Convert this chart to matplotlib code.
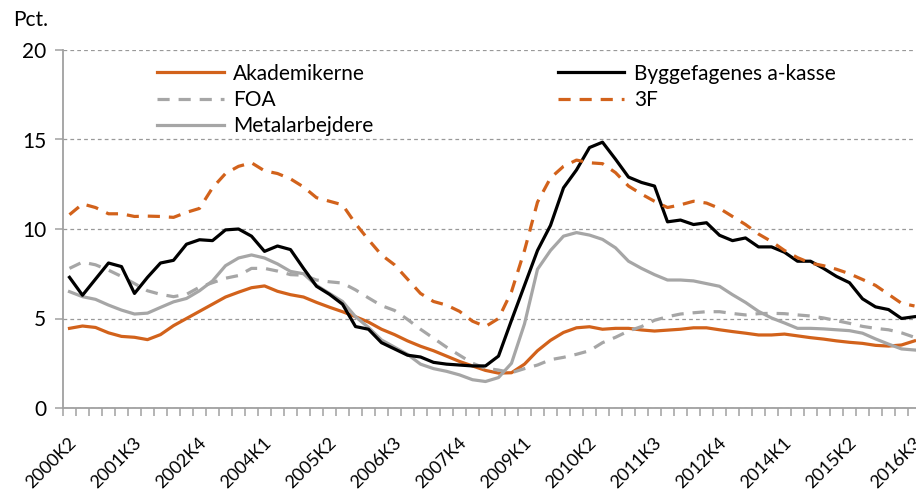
import matplotlib
matplotlib.use('Agg')
import matplotlib.pyplot as plt
import matplotlib.transforms as mtransforms
import numpy as np

# kvartaler 2000K2 - 2016K3
kvartaler = ['%dK%d' % (2000 + (q + 1) // 4, (q + 1) % 4 + 1) for q in range(66)]

akademikerne = [4.45, 4.58, 4.5, 4.2, 4.0, 3.95, 3.82, 4.1, 4.6, 5.0,
                5.4, 5.8, 6.2, 6.47, 6.72, 6.82, 6.52, 6.33, 6.2, 5.9,
                5.63, 5.38, 5.1, 4.8, 4.4, 4.1, 3.75, 3.45, 3.2, 2.9,
                2.6, 2.35, 2.1, 1.95, 1.97, 2.45, 3.2, 3.78, 4.22, 4.48,
                4.54, 4.4, 4.45, 4.45, 4.36, 4.3, 4.35, 4.4, 4.48, 4.48,
                4.37, 4.27, 4.18, 4.08, 4.08, 4.13, 4.03, 3.93, 3.85, 3.75,
                3.67, 3.61, 3.5, 3.46, 3.52, 3.75]

byggefag = [7.3, 6.3, 7.2, 8.1, 7.9, 6.4, 7.3, 8.1, 8.25, 9.15,
            9.4, 9.35, 9.95, 10.0, 9.6, 8.75, 9.05, 8.85, 7.8, 6.8,
            6.35, 5.8, 4.55, 4.4, 3.65, 3.3, 2.95, 2.85, 2.55, 2.45,
            2.4, 2.35, 2.35, 2.9, 4.9, 6.85, 8.8, 10.2, 12.3, 13.3,
            14.55, 14.85, 13.9, 12.9, 12.6, 12.4, 10.4, 10.5, 10.25, 10.35,
            9.65, 9.35, 9.5, 9.0, 9.0, 8.7, 8.2, 8.2, 7.8, 7.35,
            7.0, 6.1, 5.65, 5.5, 5.0, 5.1]

foa = [7.8, 8.15, 8.0, 7.7, 7.35, 6.95, 6.55, 6.35, 6.22, 6.35,
       6.75, 7.0, 7.25, 7.4, 7.8, 7.8, 7.65, 7.45, 7.42, 7.15,
       7.05, 6.98, 6.6, 6.15, 5.72, 5.45, 4.95, 4.4, 3.9, 3.4,
       2.95, 2.5, 2.22, 2.12, 1.97, 2.2, 2.4, 2.7, 2.83, 3.0,
       3.2, 3.65, 3.95, 4.3, 4.55, 4.9, 5.1, 5.25, 5.32, 5.38,
       5.38, 5.28, 5.2, 5.27, 5.29, 5.27, 5.2, 5.14, 5.03, 4.88,
       4.73, 4.56, 4.45, 4.37, 4.2, 3.95]

tre_f = [10.8, 11.4, 11.2, 10.85, 10.85, 10.7, 10.72, 10.7, 10.65, 10.93,
         11.15, 12.3, 13.1, 13.5, 13.7, 13.25, 13.1, 12.8, 12.35, 11.75,
         11.55, 11.35, 10.3, 9.4, 8.55, 8.0, 7.2, 6.4, 5.95, 5.75,
         5.4, 4.85, 4.55, 5.0, 6.5, 8.8, 11.5, 12.85, 13.5, 13.85,
         13.7, 13.65, 13.15, 12.4, 11.95, 11.55, 11.2, 11.35, 11.55, 11.45,
         11.15, 10.7, 10.25, 9.72, 9.3, 8.8, 8.4, 8.1, 7.95, 7.75,
         7.5, 7.18, 6.85, 6.35, 5.85, 5.7]

metal = [6.5, 6.22, 6.07, 5.75, 5.47, 5.25, 5.3, 5.62, 5.93, 6.12,
         6.55, 7.1, 7.95, 8.38, 8.55, 8.38, 8.05, 7.63, 7.5, 6.85,
         6.4, 5.95, 5.1, 4.5, 3.8, 3.4, 3.0, 2.45, 2.2, 2.05,
         1.85, 1.58, 1.48, 1.7, 2.5, 4.7, 7.75, 8.8, 9.6, 9.8,
         9.66, 9.42, 8.95, 8.2, 7.8, 7.45, 7.15, 7.15, 7.1, 6.95,
         6.8, 6.33, 5.9, 5.4, 5.03, 4.75, 4.45, 4.45, 4.42, 4.37,
         4.32, 4.18, 3.86, 3.57, 3.3, 3.24]

ORANGE = '#D2621B'
GRAA = '#A6A6A6'
AKSE = '#A0A0A0'


def tegn():
    plt.rcParams['font.family'] = ['Lato', 'DejaVu Sans']
    fig = plt.figure(figsize=(9.16, 4.9), dpi=100)
    # akserne går lidt ud over højre kant ligesom i originalen
    ax = fig.add_axes([63 / 916, 82 / 490, 858 / 916, 358 / 490])

    x = np.arange(len(kvartaler))
    lw = 2.3
    streg = (0, (3.8, 2.8))
    ax.plot(x, akademikerne, color=ORANGE, lw=lw, label='Akademikerne')
    ax.plot(x, foa, color=GRAA, lw=lw, ls=streg, label='FOA')
    ax.plot(x, metal, color=GRAA, lw=lw, label='Metalarbejdere')
    ax.plot(x, byggefag, color='black', lw=lw, label='Byggefagenes a-kasse')
    ax.plot(x, tre_f, color=ORANGE, lw=lw, ls=streg, label='3F')

    ax.set_xlim(-0.5, len(kvartaler) - 0.5)
    ax.set_ylim(0, 20)
    ax.set_yticks([0, 5, 10, 15, 20])
    ax.yaxis.grid(True, color='#999999', ls=(0, (3, 2.5)), lw=0.9)
    ax.set_axisbelow(True)

    for s in ['top', 'right']:
        ax.spines[s].set_visible(False)
    for s in ['left', 'bottom']:
        ax.spines[s].set_color(AKSE)
        ax.spines[s].set_linewidth(1.3)

    # etiketter for hvert 5. kvartal, små streger mellem kvartalerne
    pos = x[::5]
    ax.set_xticks(pos)
    ax.set_xticklabels([kvartaler[i] for i in pos], rotation=45, ha='right',
                       va='top', rotation_mode='anchor', fontsize=13)
    ax.set_xticks(np.arange(-0.5, len(kvartaler), 1), minor=True)
    ax.tick_params(axis='x', which='major', length=0, pad=19)
    ax.tick_params(axis='x', which='minor', length=6, width=1.1, color=AKSE)
    ax.tick_params(axis='y', length=6, width=1.1, color=AKSE, labelsize=15, pad=6)
    off = mtransforms.ScaledTranslation(-1 / 100, 0, fig.dpi_scale_trans)
    for lab in ax.get_xticklabels():
        lab.set_transform(lab.get_transform() + off)

    fig.text(13 / 916, 1 - 20 / 490, 'Pct.', fontsize=15, va='center', ha='left')

    ax.legend(ncol=2, loc='upper left', bbox_to_anchor=(0.1, 0.985),
              frameon=False, fontsize=15, handlelength=3.2, handletextpad=0.45,
              columnspacing=8.85, labelspacing=0.3, borderaxespad=0)

    plt.savefig('out.png', dpi=100)


if __name__ == '__main__':
    tegn()
